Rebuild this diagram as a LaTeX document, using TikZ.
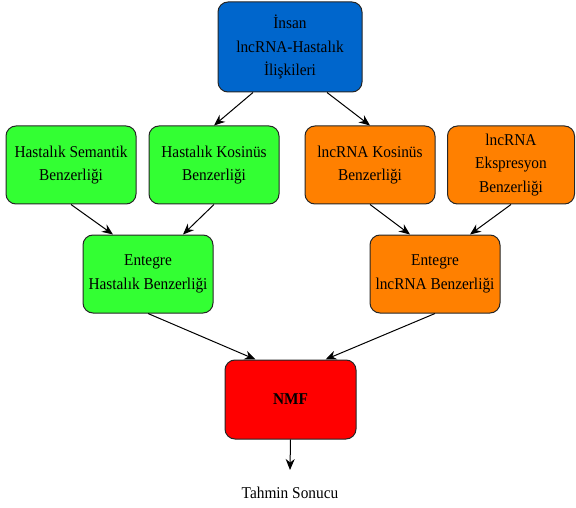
\documentclass[tikz,border=0pt]{standalone}
\usepackage{fontspec}
\setmainfont[FakeStretch=0.93]{Liberation Serif}
\usetikzlibrary{arrows.meta}
\definecolor{cblue}{HTML}{0066CC}
\definecolor{cgreen}{HTML}{33FF33}
\definecolor{corange}{HTML}{FF8000}
\definecolor{cred}{HTML}{FF0000}
\begin{document}
\begin{tikzpicture}[x=1pt,y=-1pt,
  box/.style={draw=black!85, line width=1pt, rounded corners=10pt, align=center,
    font=\fontsize{16.5}{23.5}\selectfont, inner sep=0pt, minimum width=130pt, minimum height=78pt},
  arr/.style={-{Stealth[length=11pt,width=9pt]}, line width=1pt}]
\useasboundingbox (0,0) rectangle (576,508);
\node[box, fill=cblue, minimum width=144pt, minimum height=90pt] (top) at (290,47) {İnsan\\lncRNA-Hastalık\\İlişkileri};
\node[box, fill=cgreen] (hs) at (71,165) {Hastalık Semantik\\Benzerliği};
\node[box, fill=cgreen] (hk) at (214,165) {Hastalık Kosinüs\\Benzerliği};
\node[box, fill=corange] (lk) at (370,165) {lncRNA Kosinüs\\Benzerliği};
\node[box, fill=corange, minimum width=127pt] (le) at (511,165) {lncRNA\\Ekspresyon\\Benzerliği};
\node[box, fill=cgreen] (hi) at (148,274) {Entegre\\Hastalık Benzerliği};
\node[box, fill=corange] (li) at (435,274) {Entegre\\lncRNA Benzerliği};
\node[box, fill=cred, minimum width=131pt, minimum height=79pt, font=\fontsize{16.5}{23.5}\selectfont\bfseries] (nmf) at (290.5,399.5) {NMF};
\node[font=\fontsize{16.5}{23.5}\selectfont, inner sep=0pt] (res) at (290,493) {Tahmin Sonucu};
\coordinate (resin) at (290,470);
\draw[arr] ([xshift=-37pt]top.south) -- (hk.north);
\draw[arr] ([xshift=37pt]top.south) -- (lk.north);
\draw[arr] (hs.south) -- ([xshift=-35pt]hi.north);
\draw[arr] (hk.south) -- ([xshift=35pt]hi.north);
\draw[arr] (lk.south) -- ([xshift=-25pt]li.north);
\draw[arr] (le.south) -- ([xshift=35pt]li.north);
\draw[arr] (hi.south) -- ([xshift=-35pt]nmf.north);
\draw[arr] (li.south) -- ([xshift=35pt]nmf.north);
\draw[arr] (nmf.south) -- (resin);
\end{tikzpicture}
\end{document}
